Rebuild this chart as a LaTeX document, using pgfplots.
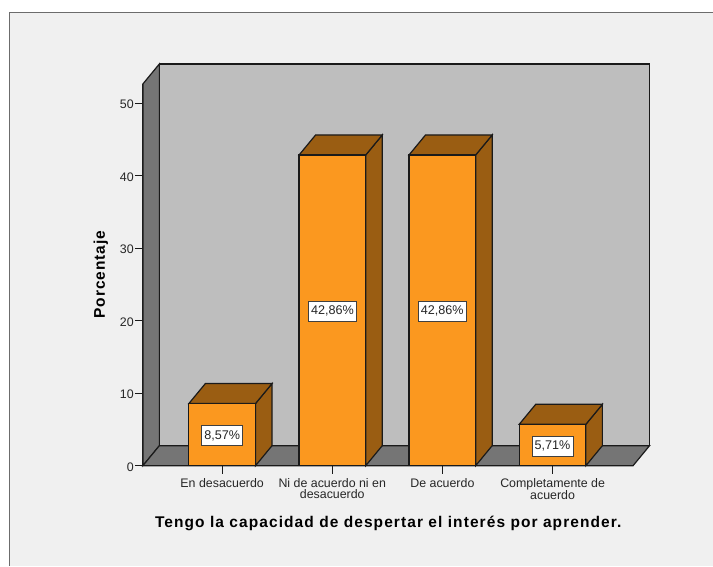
\documentclass[border=0pt]{standalone}
\usepackage{fontspec}
\setmainfont{Liberation Sans}
\usepackage{pgfplots}
\pgfplotsset{compat=1.18}
\definecolor{pagebg}{HTML}{F0F0F0}
\definecolor{wall}{HTML}{BEBEBE}
\definecolor{floorc}{HTML}{757575}
\definecolor{barf}{HTML}{FB981F}
\definecolor{bard}{HTML}{9A5D12}
\definecolor{edge}{HTML}{1A1A1A}
\begin{document}
\begin{tikzpicture}[x=1pt,y=1pt]
\fill[white] (0,0) rectangle (713,566);
\fill[pagebg] (10,0) rectangle (713,553.5);
\draw[gray!85!black,line width=1pt] (10,0) -- (10,553.5) -- (713,553.5);
\begin{axis}[
  at={(143pt,100pt)},anchor=south west,
  scale only axis,width=490.5pt,height=382pt,
  xmin=143,xmax=633.5,ymin=0,ymax=52.66,
  clip=false,
  axis x line*=bottom,axis y line*=left,
  axis line style={draw=edge,line width=1.2pt,-},
  tick style={draw=edge,line width=1.2pt},
  tick align=outside,major tick length=8pt,
  xtick={222.3,332.5,442.7,553},
  xticklabels={En desacuerdo,{Ni de acuerdo ni en\\desacuerdo},De acuerdo,{Completamente de\\acuerdo}},
  xticklabel style={align=center,font=\fontsize{12.4}{10.8}\selectfont,text=black!85,yshift=-3.5pt,inner sep=1pt},
  ytick={0,10,20,30,40,50},
  yticklabel style={font=\fontsize{12.4}{12}\selectfont,text=black!85,inner sep=1pt,yshift=-1.2pt},
  /pgf/number format/assume math mode=true,
  xlabel={\addfontfeature{LetterSpace=7}Tengo la capacidad de despertar el interés por aprender.},
  xlabel style={at={(axis description cs:0.5005,0)},anchor=center,yshift=-57.5pt,font=\fontsize{15.5}{17}\selectfont\bfseries},
  ylabel={\addfontfeature{LetterSpace=6}Porcentaje},
  ylabel style={at={(axis description cs:-0.0857,0.5)},anchor=center,font=\fontsize{15.5}{17}\selectfont\bfseries},
]
% back wall, left wall, floor
\fill[wall,draw=edge,line width=1.2pt] (axis cs:159.5,2.757) rectangle (axis cs:650,55.42);
\fill[floorc,draw=edge,line width=1.2pt] (axis cs:143,0) -- (axis cs:159.5,2.757) -- (axis cs:159.5,55.42) -- (axis cs:143,52.66) -- cycle;
\fill[floorc,draw=edge,line width=1.2pt] (axis cs:143,0) -- (axis cs:159.5,2.757) -- (axis cs:650,2.757) -- (axis cs:633.5,0) -- cycle;
% bar sides
\addplot[fill=bard,draw=edge,line width=1.2pt] coordinates {(255.7,0)(272.2,2.757)(272.2,11.327)(255.7,8.57)} --cycle;
\addplot[fill=bard,draw=edge,line width=1.2pt] coordinates {(366,0)(382.5,2.757)(382.5,45.617)(366,42.86)} --cycle;
\addplot[fill=bard,draw=edge,line width=1.2pt] coordinates {(476,0)(492.5,2.757)(492.5,45.617)(476,42.86)} --cycle;
\addplot[fill=bard,draw=edge,line width=1.2pt] coordinates {(586.3,0)(602.8,2.757)(602.8,8.467)(586.3,5.71)} --cycle;
% bar tops
\addplot[fill=bard,draw=edge,line width=1.2pt] coordinates {(189,8.57)(205.5,11.327)(272.2,11.327)(255.7,8.57)} --cycle;
\addplot[fill=bard,draw=edge,line width=1.2pt] coordinates {(299.3,42.86)(315.8,45.617)(382.5,45.617)(366,42.86)} --cycle;
\addplot[fill=bard,draw=edge,line width=1.2pt] coordinates {(409.3,42.86)(425.8,45.617)(492.5,45.617)(476,42.86)} --cycle;
\addplot[fill=bard,draw=edge,line width=1.2pt] coordinates {(519.6,5.71)(536.1,8.467)(602.8,8.467)(586.3,5.71)} --cycle;
% bar fronts
\addplot[ybar,bar width=66.7pt,fill=barf,draw=edge,line width=1.2pt] coordinates {(222.35,8.57)(332.65,42.86)(442.65,42.86)(552.95,5.71)};
% value labels
\begin{scope}[every node/.style={fill=white,draw=black!75,line width=0.8pt,minimum height=20pt,inner ysep=0pt,inner xsep=2.5pt,yshift=-1pt,font=\fontsize{12.6}{13}\selectfont,text=black!85}]
\node at (axis cs:222.35,4.285) {8,57\%};
\node at (axis cs:332.65,21.43) {42,86\%};
\node at (axis cs:442.65,21.43) {42,86\%};
\node at (axis cs:552.95,2.855) {5,71\%};
\end{scope}
\end{axis}
\end{tikzpicture}
\end{document}
